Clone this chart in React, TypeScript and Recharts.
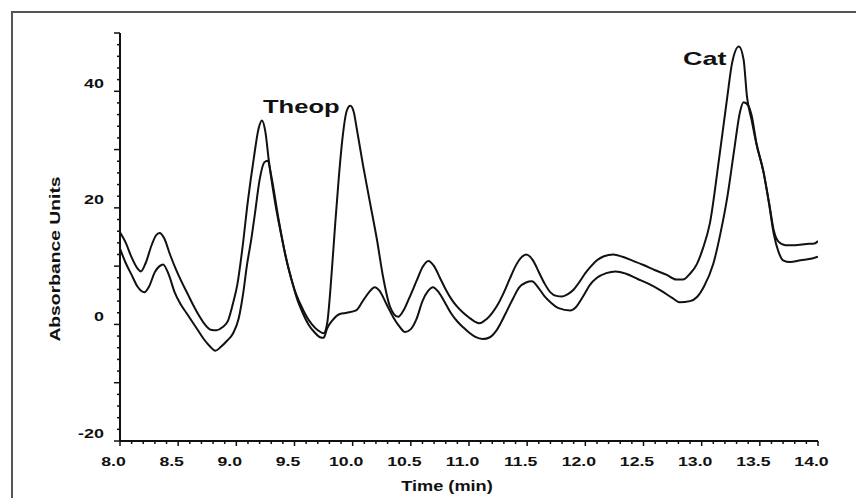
import React from 'react';
import { LineChart, Line, XAxis, YAxis } from 'recharts';

// upper trace (with the Theop peak)
const timeA = [
  8.0, 8.05, 8.1, 8.15, 8.18, 8.22, 8.27, 8.31, 8.34, 8.38, 8.43, 8.48, 8.53, 8.58, 8.63, 8.68, 8.73, 8.78, 8.83, 8.88,
  8.93, 8.97, 9.01, 9.05, 9.1, 9.15, 9.19, 9.22, 9.25, 9.28, 9.33, 9.4, 9.45, 9.5, 9.55, 9.6, 9.65, 9.7, 9.75, 9.78,
  9.82, 9.85, 9.88, 9.91, 9.95, 9.98, 10.01, 10.03, 10.09, 10.15, 10.21, 10.26, 10.32, 10.39, 10.44, 10.49, 10.55, 10.6, 10.65,
  10.7, 10.75, 10.8, 10.85, 10.9, 10.95, 11.0, 11.05, 11.09, 11.15, 11.2, 11.25, 11.3, 11.35, 11.4, 11.45, 11.49, 11.55, 11.6, 11.65,
  11.7, 11.75, 11.8, 11.85, 11.9, 11.95, 12.0, 12.05, 12.1, 12.16, 12.24, 12.32, 12.4, 12.5, 12.6, 12.7, 12.78, 12.84, 12.9, 12.96,
  13.01, 13.07, 13.15, 13.22, 13.26, 13.32, 13.36, 13.39, 13.43, 13.47, 13.53, 13.58, 13.62, 13.66, 13.72, 13.8, 13.9, 13.97, 14.0,
];
const absA = [
  15.8, 14.0, 11.5, 9.6, 9.1, 10.5, 13.5, 15.3, 15.7, 14.8, 12.0, 9.5, 7.3, 5.3, 3.3, 1.5, 0.0, -0.9, -1.0, -0.5,
  0.7, 3.5, 7.0, 12.7, 21.3, 28.5, 33.5, 35.0, 33.0, 28.0, 21.3, 14.0, 9.5, 6.0, 3.5, 1.5, 0.0, -1.0, -1.5, 0.1,
  9.0, 17.3, 25.0, 31.5, 36.7, 37.5, 36.4, 34.2, 27.2, 20.8, 14.4, 8.3, 3.1, 1.3, 2.5, 4.7, 7.5, 9.8, 10.9,
  10.0, 8.0, 6.0, 4.3, 3.0, 2.0, 1.2, 0.5, 0.2, 0.9, 2.0, 3.5, 5.5, 7.8, 10.0, 11.5, 12.0, 11.0, 9.0, 7.0,
  5.5, 4.9, 4.8, 5.2, 6.0, 7.3, 8.8, 10.0, 11.0, 11.7, 12.0, 11.6, 11.0, 10.2, 9.3, 8.5, 7.7, 7.7, 8.7, 10.4,
  13.0, 17.3, 28.5, 39.0, 44.7, 47.7, 45.5, 39.0, 35.0, 31.0, 26.3, 20.8, 16.1, 14.2, 13.6, 13.6, 13.8, 13.9, 14.3,
];

// lower trace
const timeB = [
  8.0, 8.05, 8.1, 8.15, 8.21, 8.25, 8.3, 8.34, 8.37, 8.42, 8.47, 8.52, 8.57, 8.62, 8.67, 8.72, 8.77, 8.82, 8.87, 8.92,
  8.97, 9.02, 9.06, 9.09, 9.13, 9.16, 9.2, 9.24, 9.27, 9.3, 9.36, 9.42, 9.47, 9.52, 9.57, 9.62, 9.67, 9.72, 9.75, 9.78,
  9.83, 9.89, 9.95, 10.03, 10.09, 10.14, 10.19, 10.23, 10.29, 10.35, 10.4, 10.45, 10.5, 10.55, 10.6, 10.65, 10.69, 10.74, 10.8, 10.85,
  10.9, 10.95, 11.0, 11.05, 11.12, 11.18, 11.23, 11.28, 11.33, 11.38, 11.43, 11.49, 11.54, 11.6, 11.65, 11.7, 11.77, 11.87, 11.92, 11.98,
  12.04, 12.1, 12.18, 12.26, 12.35, 12.45, 12.55, 12.65, 12.75, 12.81, 12.9, 12.96, 13.02, 13.1, 13.16, 13.22, 13.28, 13.33, 13.36, 13.4,
  13.43, 13.47, 13.53, 13.58, 13.62, 13.66, 13.7, 13.76, 13.85, 13.95, 14.0,
];
const absB = [
  13.0, 10.5, 8.5, 6.5, 5.5, 6.5, 9.0, 10.0, 10.3, 8.5, 5.5, 3.5, 2.0, 0.5, -1.0, -2.5, -3.7, -4.5, -3.8, -2.8,
  -1.6, 1.0, 5.5, 10.0, 14.8, 19.0, 24.8, 27.8, 28.1, 25.5, 18.4, 12.0, 8.0, 4.5, 2.0, 0.0, -1.3, -2.2, -2.3, -0.7,
  0.8, 1.8, 2.0, 2.4, 4.1, 5.5, 6.4, 5.8, 3.5, 1.2, -0.3, -1.3, -0.8, 1.0, 4.0, 5.8, 6.4, 5.5, 3.5, 1.8,
  0.5, -0.5, -1.4, -2.1, -2.5, -2.2, -1.2, 0.5, 2.5, 4.5, 6.3, 7.2, 7.4, 6.2, 4.8, 3.8, 2.8, 2.4, 3.0, 4.8,
  6.8, 8.0, 8.8, 9.1, 8.7, 7.8, 6.9, 5.8, 4.5, 3.8, 4.0, 4.7, 6.5, 10.4, 15.5, 21.8, 30.0, 36.5, 38.1, 37.6,
  35.8, 31.2, 26.3, 20.6, 15.5, 12.5, 11.0, 10.7, 11.0, 11.3, 11.6,
];

const xMajorTicks = [8.0, 8.5, 9.0, 9.5, 10.0, 10.5, 11.0, 11.5, 12.0, 12.5, 13.0, 13.5, 14.0];
const xTickLabels = ['8.0', '8.5', '9.0', '9.5', '10.0', '10.5', '11.0', '11.5', '12.0', '12.5', '13.0', '13.5', '14.0'];
const yLabelValues = [-20, 0, 20, 40];
const yTickLabels = ['-20', '0', '20', '40'];

// minor ticks: every 0.1 min on x, every 2 units on y
const xTicks = Array.from({ length: 61 }, (_, i) => Math.round((8 + i / 10) * 10) / 10);
const yTicks = Array.from({ length: 36 }, (_, i) => -20 + i * 2);

const rows = new Map<string, { t: number; a?: number; b?: number }>();
timeA.forEach((t, i) => {
  const k = t.toFixed(2);
  rows.set(k, { ...(rows.get(k) || { t }), a: absA[i] });
});
timeB.forEach((t, i) => {
  const k = t.toFixed(2);
  rows.set(k, { ...(rows.get(k) || { t }), b: absB[i] });
});
const data = Array.from(rows.values()).sort((p, q) => p.t - q.t);

const FONT = '"Liberation Sans", Arial, sans-serif';
const INK = '#111';

function XTick(props: any) {
  const { x, y, payload } = props;
  const v = payload.value;
  const idx = xMajorTicks.findIndex((m) => Math.abs(m - v) < 1e-6);
  const major = idx >= 0;
  return (
    <g>
      <line x1={x} x2={x} y1={y} y2={y + (major ? 5 : 3)} stroke={INK} strokeWidth={1.5} />
      {major && (
        <text
          transform={`translate(${x - 6.5},${y + 25}) scale(1.36,1)`}
          textAnchor="middle"
          fontFamily={FONT}
          fontWeight="bold"
          fontSize={13}
          fill={INK}
        >
          {xTickLabels[idx]}
        </text>
      )}
    </g>
  );
}

function YTick(props: any) {
  const { x, y, payload } = props;
  const v = payload.value;
  const major = v % 10 === 0;
  const idx = yLabelValues.indexOf(v);
  return (
    <g>
      <line x1={x - (major ? 6 : 3)} x2={x} y1={y} y2={y} stroke={INK} strokeWidth={1.5} />
      {idx >= 0 && (
        <text
          transform={`translate(${x - 16},${y - 3.5}) scale(1.38,1)`}
          textAnchor="end"
          fontFamily={FONT}
          fontWeight="bold"
          fontSize={13}
          fill={INK}
        >
          {yTickLabels[idx]}
        </text>
      )}
    </g>
  );
}

export default function App() {
  return (
    <div
      style={{
        position: 'absolute',
        left: 0,
        top: 0,
        width: 856,
        height: 498,
        overflow: 'hidden',
        background: '#fff',
      }}
    >
      <div
        style={{
          position: 'absolute',
          left: 11,
          top: 11,
          width: 900,
          height: 600,
          borderLeft: '2px solid #555',
          borderTop: '2px solid #555',
        }}
      />
      <div style={{ position: 'absolute', left: 0, top: 0 }}>
        <LineChart width={856} height={498} data={data} margin={{ top: 33, right: 38, bottom: 17, left: 0 }}>
          <XAxis
            dataKey="t"
            type="number"
            domain={[8, 14]}
            ticks={xTicks}
            interval={0}
            tickLine={false}
            tickSize={0}
            tickMargin={0}
            height={40}
            tick={<XTick />}
            axisLine={{ stroke: INK, strokeWidth: 2 }}
            allowDataOverflow
          />
          <YAxis
            type="number"
            domain={[-20, 50]}
            ticks={yTicks}
            interval={0}
            tickLine={false}
            tickSize={0}
            tickMargin={0}
            width={120}
            tick={<YTick />}
            axisLine={{ stroke: INK, strokeWidth: 2 }}
            allowDataOverflow
          />
          <Line
            type="monotone"
            dataKey="a"
            stroke={INK}
            strokeWidth={2}
            dot={false}
            connectNulls
            isAnimationActive={false}
          />
          <Line
            type="monotone"
            dataKey="b"
            stroke={INK}
            strokeWidth={2}
            dot={false}
            connectNulls
            isAnimationActive={false}
          />
        </LineChart>
      </div>
      <svg
        width={856}
        height={498}
        style={{ position: 'absolute', left: 0, top: 0, pointerEvents: 'none' }}
      >
        <text
          transform="translate(447,491) scale(1.3,1)"
          textAnchor="middle"
          fontFamily={FONT}
          fontWeight="bold"
          fontSize={14}
          fill={INK}
        >
          Time (min)
        </text>
        <text
          transform="translate(60,259) rotate(-90) scale(1.38,1)"
          textAnchor="middle"
          fontFamily={FONT}
          fontWeight="bold"
          fontSize={14}
          fill={INK}
        >
          Absorbance Units
        </text>
        <text
          transform="translate(263,113) scale(1.42,1)"
          fontFamily={FONT}
          fontWeight="bold"
          fontSize={18}
          fill={INK}
        >
          Theop
        </text>
        <text
          transform="translate(683,65) scale(1.5,1)"
          fontFamily={FONT}
          fontWeight="bold"
          fontSize={18}
          fill={INK}
        >
          Cat
        </text>
      </svg>
    </div>
  );
}
